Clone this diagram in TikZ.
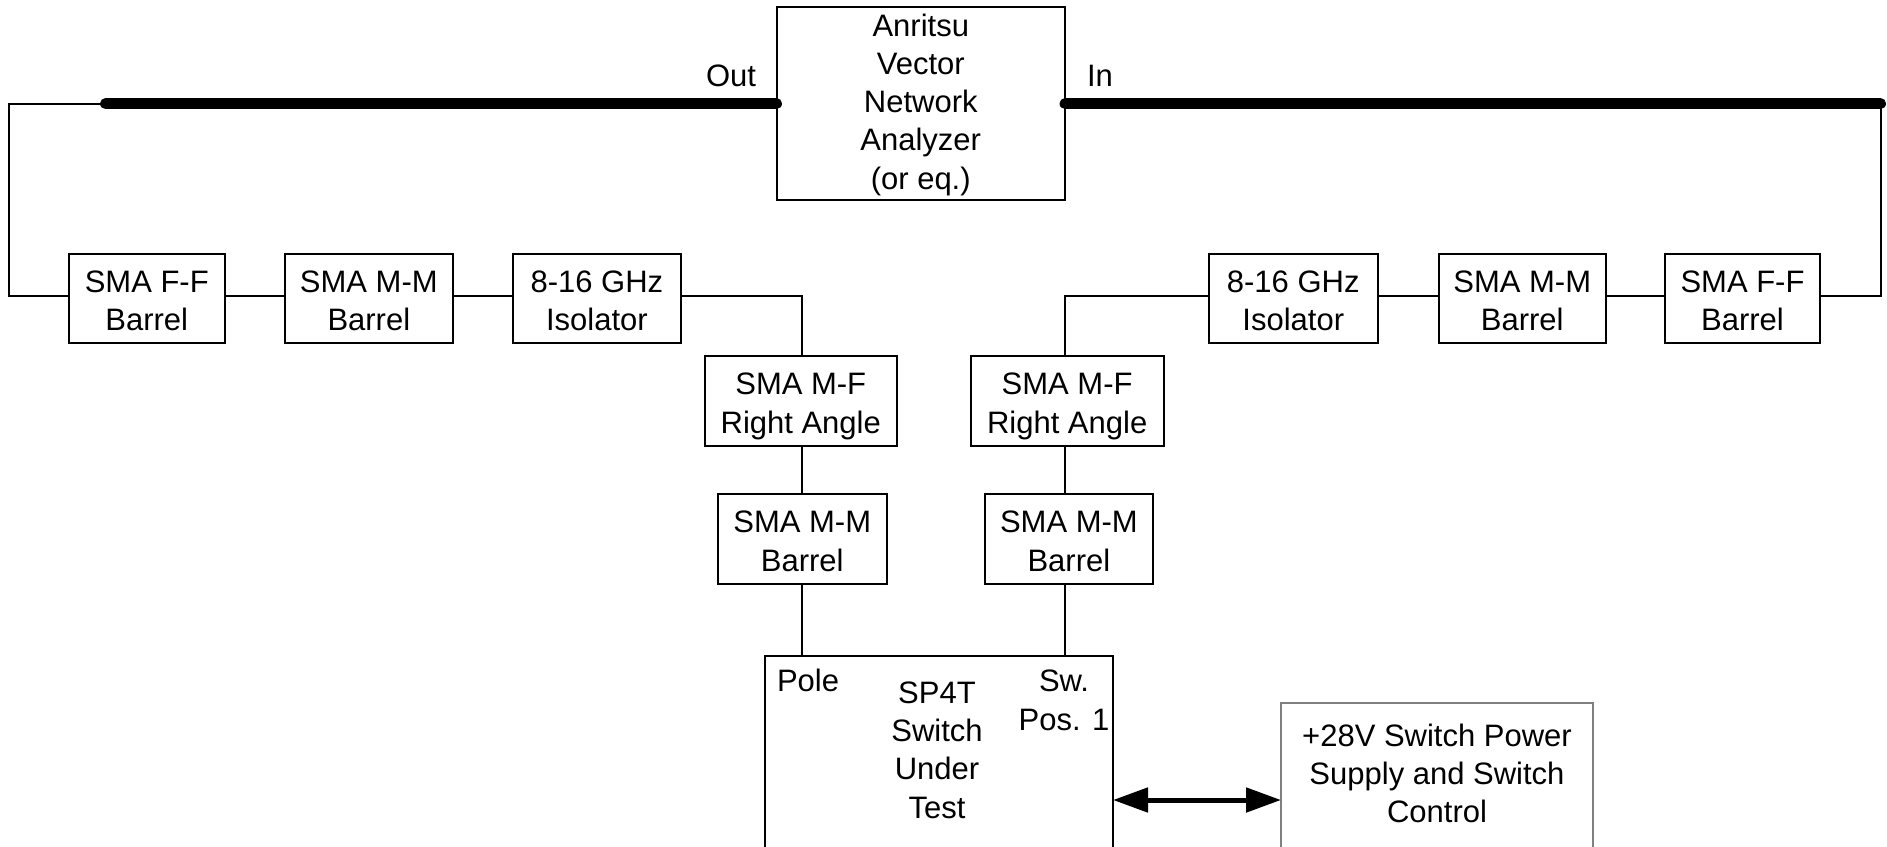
\documentclass[tikz,border=0pt]{standalone}
\usepackage{fontspec}
\setmainfont{Liberation Sans}
\usetikzlibrary{arrows.meta}
\definecolor{pwrgray}{RGB}{128,128,128}
\newcommand{\hs}[1]{\rule{0pt}{#1pt}}
\newcommand{\ds}[1]{\rule[-#1pt]{0pt}{#1pt}}
\begin{document}
\begin{tikzpicture}[x=1pt,y=-1pt,
  every node/.style={inner sep=0pt, outer sep=0pt},
  txt/.style={align=center, font=\fontsize{31}{38.3}\selectfont},
  box/.style={txt, draw, line width=2pt, minimum height=89pt},
  wire/.style={line width=2pt},
  cable/.style={line width=11pt, line cap=round},
  biarrow/.style={line width=5pt, {Triangle[length=35pt,width=24pt]}-{Triangle[length=35pt,width=24pt]}}]
\useasboundingbox (0,0) rectangle (1887,846);
\clip (0,0) rectangle (1887,846);

% analyzer
\node[box, minimum width=288.5pt, minimum height=192.7pt] (vna) at (920.75,103.65)
  {\hs{25}Anritsu\\Vector\\Network\\Analyzer\\ (or eq.)\ds{7}};
\node[txt, anchor=base east] (outlbl) at (756,86.7) {Out};
\node[txt, anchor=base west] (inlbl) at (1087,86.5) {In};

% left chain
\node[box, minimum width=155.5pt] (lff) at (146.75,298.5) {\hs{33}SMA F-F\\Barrel\ds{7}};
\node[box, minimum width=168.3pt] (lmm) at (368.85,298.5) {\hs{33}SMA M-M\\Barrel\ds{7}};
\node[box, minimum width=168.2pt] (liso) at (596.9,298.5) {\hs{33}8-16 GHz\\Isolator\ds{7}};
\node[box, minimum width=192.1pt, minimum height=90.6pt] (lmf) at (800.75,401) {\hs{33}SMA M-F\\Right Angle\ds{7}};
\node[box, minimum width=168.5pt, minimum height=90pt] (lmm2) at (802.25,539) {\hs{33}SMA M-M\\Barrel\ds{7}};

% right chain
\node[box, minimum width=155pt] (rff) at (1742.5,298.5) {\hs{33}SMA F-F\\Barrel\ds{7}};
\node[box, minimum width=167.5pt] (rmm) at (1522.25,298.5) {\hs{33}SMA M-M\\Barrel\ds{7}};
\node[box, minimum width=168.5pt] (riso) at (1293.25,298.5) {\hs{33}8-16 GHz\\Isolator\ds{7}};
\node[box, minimum width=192.9pt, minimum height=90.6pt] (rmf) at (1067.15,401) {\hs{33}SMA M-F\\Right Angle\ds{7}};
\node[box, minimum width=168pt, minimum height=90pt] (rmm2) at (1068.9,539) {\hs{33}SMA M-M\\Barrel\ds{7}};

% switch under test
\node[draw, line width=2pt, minimum width=348.2pt, minimum height=300pt, anchor=north] (sw) at (938.9,655.7) {};
\node[txt, anchor=north] (swname) at (937,673.3) {\hs{30}SP4T\\Switch\\Under\\Test};
\node[txt, anchor=base west] (pole) at (777,691.7) {Pole};
\node[txt, anchor=north] (swpos) at (1064,661.7) {\hs{30}Sw.\\Pos. 1};

% power supply
\node[draw=pwrgray, line width=1.5pt, minimum width=312pt, minimum height=300pt, anchor=north] (pwr) at (1437,703) {};
\node[txt, anchor=north] (pwrname) at (1437,716) {\hs{30}+28V Switch Power\\Supply and Switch\\Control};

% coordinates
\coordinate (wl) at (0,295.5);
\coordinate (lx) at (801.5,0);
\coordinate (rx) at (1065,0);
\coordinate (ay) at (0,800);
\coordinate (lthk) at (105.5,103.65);
\coordinate (lcorner) at (9,103.65);
\coordinate (rthk) at (1880.5,103.65);

% cables
\draw[cable] (lthk) -- (vna.west);
\draw[cable] (vna.east) -- (rthk);

% left wires
\draw[wire] (lthk) -- (lcorner) |- (lff.west |- wl);
\draw[wire] (lff.east |- wl) -- (lmm.west |- wl);
\draw[wire] (lmm.east |- wl) -- (liso.west |- wl);
\draw[wire] (liso.east |- wl) -| (lmf.north -| lx);
\draw[wire] (lmf.south -| lx) -- (lmm2.north -| lx);
\draw[wire] (lmm2.south -| lx) -- (sw.north -| lx);

% right wires
\draw[wire] (rthk) |- (rff.east |- wl);
\draw[wire] (rff.west |- wl) -- (rmm.east |- wl);
\draw[wire] (rmm.west |- wl) -- (riso.east |- wl);
\draw[wire] (riso.west |- wl) -| (rmf.north -| rx);
\draw[wire] (rmf.south -| rx) -- (rmm2.north -| rx);
\draw[wire] (rmm2.south -| rx) -- (sw.north -| rx);

% control link
\draw[biarrow] (sw.east |- ay) -- (pwr.west |- ay);
\end{tikzpicture}
\end{document}
